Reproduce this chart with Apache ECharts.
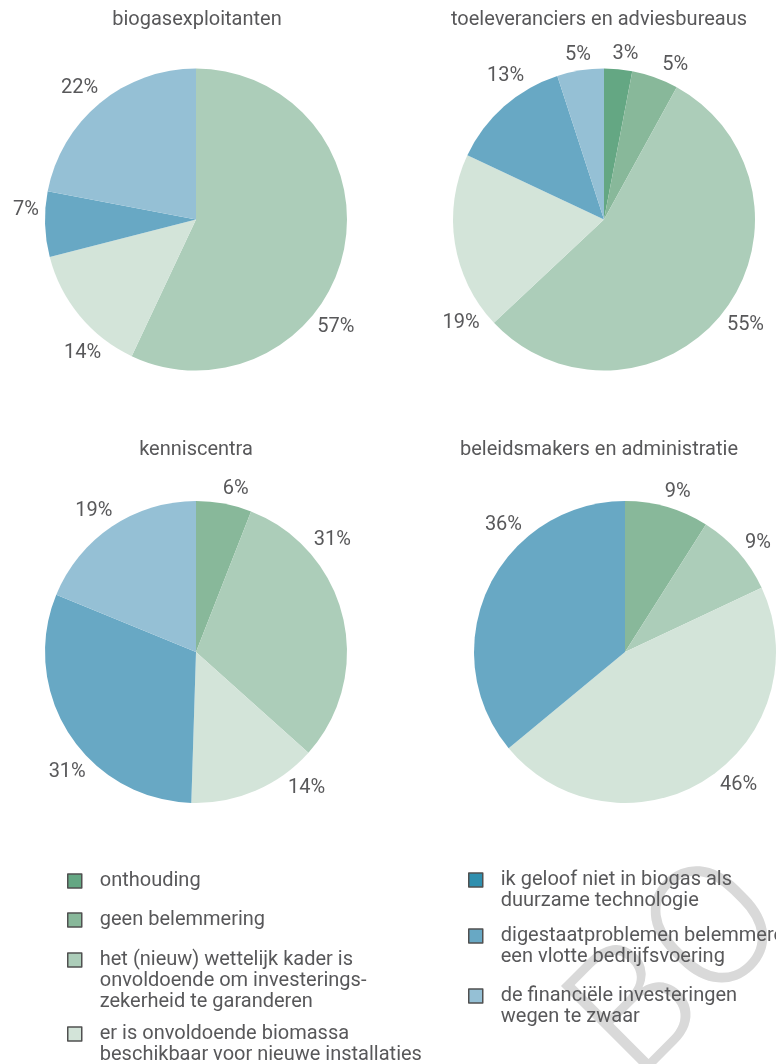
<!DOCTYPE html>
<html>
<head>
<meta charset="utf-8">
<script src="https://cdn.jsdelivr.net/npm/echarts@6/dist/echarts.min.js"></script>
<style>
html,body{margin:0;padding:0;background:#fff;}
#c{width:776px;height:1064px;}
</style>
</head>
<body>
<div id="c"></div>
<script>
// ---- data ----
const categories = [
  'onthouding',
  'geen belemmering',
  'het (nieuw) wettelijk kader is onvoldoende om investeringszekerheid te garanderen',
  'er is onvoldoende biomassa beschikbaar voor nieuwe installaties',
  'ik geloof niet in biogas als duurzame technologie',
  'digestaatproblemen belemmeren een vlotte bedrijfsvoering',
  'de financiële investeringen wegen te zwaar'
];
const legendLabels = [
  'onthouding',
  'geen belemmering',
  'het (nieuw) wettelijk kader is\nonvoldoende om investerings-\nzekerheid te garanderen',
  'er is onvoldoende biomassa\nbeschikbaar voor nieuwe installaties',
  'ik geloof niet in biogas als\nduurzame technologie',
  'digestaatproblemen belemmeren\neen vlotte bedrijfsvoering',
  'de financiële investeringen\nwegen te zwaar'
];
const groups = ['biogasexploitanten', 'toeleveranciers en adviesbureaus', 'kenniscentra', 'beleidsmakers en administratie'];
const biogasexploitanten = [0, 0, 57, 14, 0, 7, 22];
const toeleveranciers   = [3, 5, 55, 19, 0, 13, 5];
const kenniscentra      = [0, 6, 31, 14, 0, 31, 19];
const beleidsmakers     = [0, 9, 9, 46, 0, 36, 0];
const colors = ['#64a783', '#88b89a', '#accdb9', '#d3e4d9', '#2f8fae', '#68a8c4', '#95c0d5'];

// ---- layout / style ----
const FONT = 'Roboto, "Open Sans", sans-serif';
const TEXT = '#58585a';
const R = 151;
const pies = [
  { title: groups[0], values: biogasexploitanten, center: [196, 219.5], titleX: 197, titleY: 10 },
  { title: groups[1], values: toeleveranciers,   center: [604, 219.5], titleX: 599, titleY: 10 },
  { title: groups[2], values: kenniscentra,      center: [196, 652],   titleX: 196, titleY: 440 },
  { title: groups[3], values: beleidsmakers,     center: [625, 652],   titleX: 599, titleY: 440 }
];
// angular nudges (degrees) of the percentage labels around each pie, per category
const labelShift = [
  [0, 0, 25, -10, 0, 5, -2],
  [2, 5, -1, -27, 0, 7, 0],
  [0, 3, -26, -16, 0, -10, -2],
  [0, 2, 2, -8, 0, 21, 0]
];
const LABEL_GAP = 6;
// legend placement: [column left, icon centre y]
const legendPlaces = [
  [67, 881], [67, 920], [67, 960], [67, 1034],
  [468, 880], [468, 936], [468, 996]
];
const LH = 21;

const series = [];
pies.forEach((p, pi) => {
  const data = p.values.map((v, i) => ({ name: categories[i], value: v, itemStyle: { color: colors[i] } }));
  series.push({
    type: 'pie', center: p.center, radius: [0, R], startAngle: 90, clockwise: true,
    data: data, label: { show: false }, labelLine: { show: false },
    emphasis: { disabled: true }, silent: true, animation: false
  });
  series.push({
    type: 'pie', center: p.center, radius: [R, R + 44], startAngle: 90, clockwise: true,
    data: p.values.map((v, i) => ({ name: categories[i], value: v })),
    itemStyle: { color: 'rgba(0,0,0,0)' },
    label: {
      show: true, position: 'inside',
      formatter: q => (q.value ? q.value + '%' : ''),
      fontSize: 20, color: TEXT, fontFamily: FONT
    },
    labelLayout: function (params) {
      const s = labelShift[pi][params.dataIndex] || 0;
      const r = params.labelRect;
      const x0 = r.x + r.width / 2, y0 = r.y + r.height / 2;
      const dx = x0 - p.center[0], dy = y0 - p.center[1];
      const th = Math.atan2(dx, -dy) + s * Math.PI / 180;
      const d = R + LABEL_GAP + Math.abs(Math.sin(th)) * r.width / 2 + Math.abs(Math.cos(th)) * 8;
      return { dx: p.center[0] + d * Math.sin(th) - x0, dy: p.center[1] - d * Math.cos(th) - y0 };
    },
    labelLine: { show: false }, legendHoverLink: false,
    emphasis: { disabled: true }, silent: true, animation: false
  });
});

const titles = pies.map(p => ({
  text: p.title, left: p.titleX, top: p.titleY, textAlign: 'center', padding: 0,
  textStyle: { fontSize: 20, fontWeight: 'normal', color: TEXT, fontFamily: FONT }
}));

const legends = categories.map((c, i) => {
  const n = legendLabels[i].split('\n').length;
  const pl = legendPlaces[i];
  return {
    data: [{ name: c }], orient: 'vertical', left: pl[0], top: pl[1] - (2 * n - 1) * LH / 2,
    padding: 0, itemGap: 0, itemWidth: 14, itemHeight: 14, icon: 'rect', selectedMode: false,
    formatter: name => '\n'.repeat(n - 1) + legendLabels[categories.indexOf(name)],
    itemStyle: { borderColor: '#505050', borderWidth: 1.5 },
    textStyle: { fontSize: 20, color: TEXT, fontFamily: FONT, lineHeight: LH, padding: [0, 0, 0, 13] }
  };
});

const chart = echarts.init(document.getElementById('c'), null, { renderer: 'canvas' });
chart.setOption({
  backgroundColor: '#ffffff',
  animation: false,
  title: titles,
  legend: legends,
  graphic: [{
    type: 'text', x: 606, y: 1053, rotation: Math.PI / 4, z: -10, silent: true,
    style: { text: 'BO', fontSize: 172, fontFamily: 'Roboto, sans-serif', fontWeight: 300, fill: '#d9d9d9', align: 'left', verticalAlign: 'middle' }
  }],
  series: series
});
</script>
</body>
</html>
